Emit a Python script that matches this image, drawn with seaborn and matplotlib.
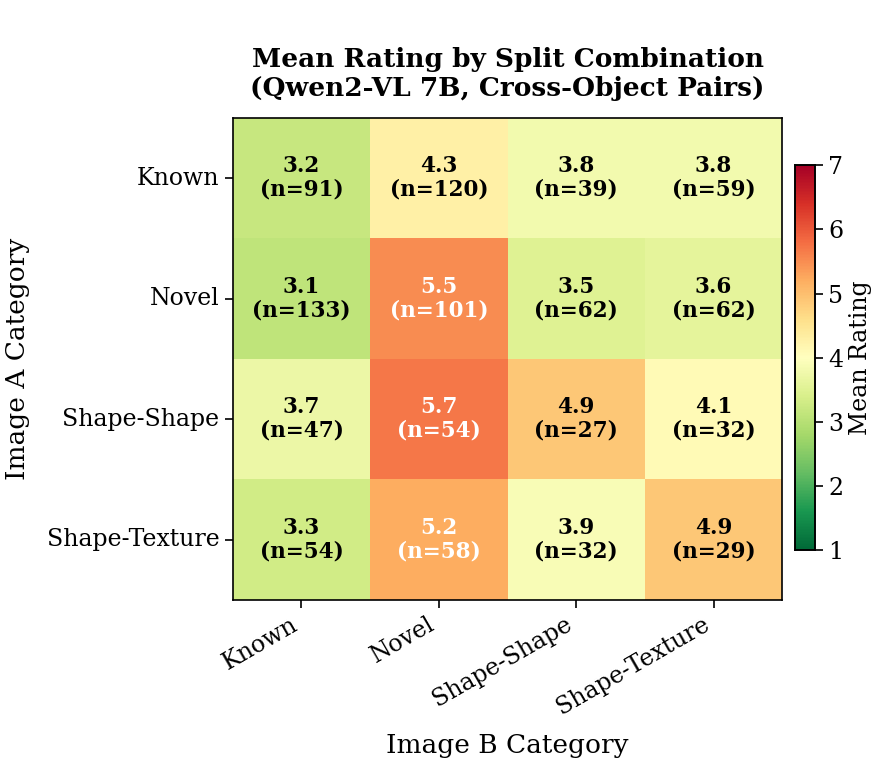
import numpy as np
import pandas as pd
import seaborn as sns
import matplotlib.pyplot as plt

categorias = ["Known", "Novel", "Shape-Shape", "Shape-Texture"]
medias = [
    [3.2, 4.3, 3.8, 3.8],
    [3.1, 5.5, 3.5, 3.6],
    [3.7, 5.7, 4.9, 4.1],
    [3.3, 5.2, 3.9, 4.9],
]
conteos = [
    [91, 120, 39, 59],
    [133, 101, 62, 62],
    [47, 54, 27, 32],
    [54, 58, 32, 29],
]

plt.rcParams["font.family"] = ["DejaVu Serif"]

datos = pd.DataFrame(medias, index=categorias, columns=categorias)
anot = np.array([[f"{m:.1f}\n(n={n})" for m, n in zip(fm, fn)]
                 for fm, fn in zip(medias, conteos)])

fig = plt.figure(figsize=(8.85, 7.65), dpi=100)
ax = fig.add_axes([0.263, 0.216, 0.621, 0.630])
cax = fig.add_axes([0.898, 0.281, 0.023, 0.503])

sns.heatmap(datos, ax=ax, cbar_ax=cax, cmap="RdYlGn_r", vmin=1, vmax=7,
            annot=False, cbar_kws={"label": "Mean Rating"})

for i in range(len(categorias)):
    for j in range(len(categorias)):
        color = "white" if medias[i][j] > 5.0 else "black"
        ax.text(j + 0.5, i + 0.5, anot[i, j], ha="center", va="center",
                fontsize=15.5, fontweight="bold", color=color, linespacing=1.1)

for s in ax.spines.values():
    s.set_visible(True)
    s.set_linewidth(1.2)

ax.set_title("Mean Rating by Split Combination\n(Qwen2-VL 7B, Cross-Object Pairs)",
             fontsize=19, fontweight="bold", pad=16)
ax.set_xlabel("Image B Category", fontsize=19, labelpad=10)
ax.set_ylabel("Image A Category", fontsize=19, labelpad=12)
ax.set_xticklabels(categorias, rotation=30, ha="right", fontsize=17)
ax.set_yticklabels(categorias, rotation=0, fontsize=17)
ax.tick_params(length=6, width=1.2)

cax.tick_params(labelsize=17, length=6, width=1.2)
cax.yaxis.label.set_size(17)
for s in cax.spines.values():
    s.set_visible(True)
    s.set_linewidth(1.2)

plt.savefig("out.png", dpi=100)
plt.close()
